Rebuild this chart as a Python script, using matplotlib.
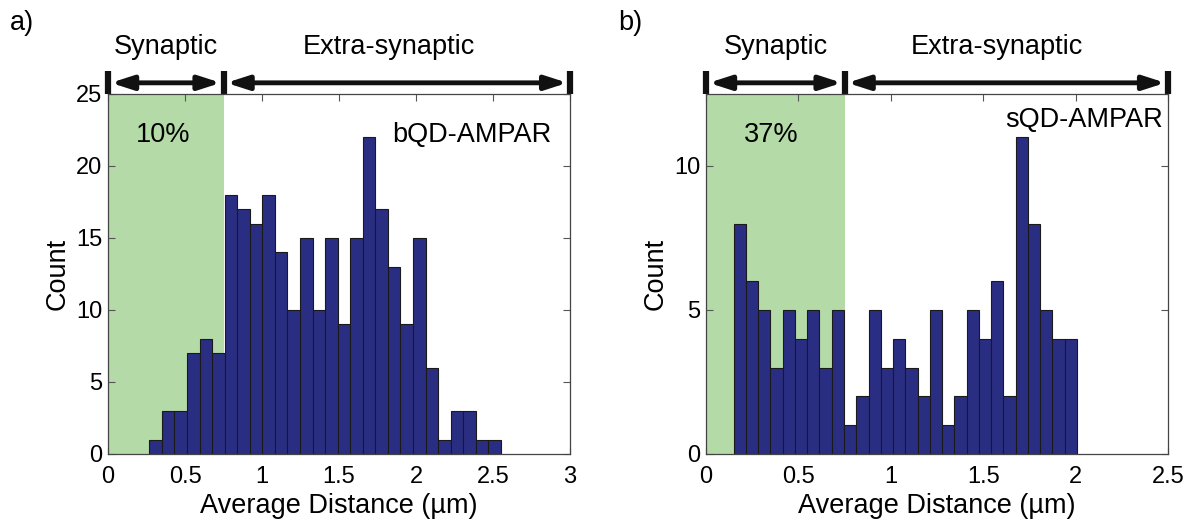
import numpy as np
import matplotlib.pyplot as plt

plt.rcParams['font.family'] = ['Liberation Sans', 'DejaVu Sans']

# panel a: bQD-AMPAR
counts_a = [1, 3, 3, 7, 8, 7, 18, 17, 16, 18, 14, 10, 15, 10, 15, 9,
            15, 22, 17, 13, 9, 15, 6, 1, 3, 3, 1, 1]
range_a = (0.268, 2.55)
# panel b: sQD-AMPAR
counts_b = [8, 6, 5, 3, 5, 4, 5, 3, 5, 1, 2, 5, 3, 4, 3, 2,
            5, 1, 2, 5, 4, 6, 2, 11, 8, 5, 4, 4]
range_b = (0.15, 2.006)

syn_edge = 0.75
bar_col = "#2a2e82"
green = "#b4dba7"

fig = plt.figure(figsize=(11.94, 5.21), dpi=100)
ax_a = fig.add_axes([0.0905, 0.1286, 0.387, 0.691])
ax_b = fig.add_axes([0.5913, 0.1286, 0.387, 0.691])

panels = [
    (ax_a, counts_a, range_a, 3.0, 25, [0, 5, 10, 15, 20, 25],
     ["0", "0.5", "1", "1.5", "2", "2.5", "3"], "10%", "bQD-AMPAR", 2.88, 0.885),
    (ax_b, counts_b, range_b, 2.5, 12.5, [0, 5, 10],
     ["0", "0.5", "1", "1.5", "2", "2.5"], "37%", "sQD-AMPAR", 2.47, 0.928),
]

for ax, counts, rng, xmax, ymax, yt, xtl, pct, name, nx, ny in panels:
    edges = np.linspace(rng[0], rng[1], len(counts) + 1)
    ax.axvspan(0, syn_edge, color=green, zorder=0, lw=0)
    ax.bar(edges[:-1], counts, width=np.diff(edges), align='edge',
           color=bar_col, edgecolor="#1a1a1a", linewidth=0.8, zorder=2)
    ax.set_xlim(0, xmax)
    ax.set_ylim(0, ymax)
    ax.set_yticks(yt)
    ax.set_xticks(np.arange(0, xmax + 0.01, 0.5))
    ax.set_xticklabels(xtl)
    ax.tick_params(direction='in', top=True, right=True, labelsize=17,
                   length=5, width=0.8, color="#555555", pad=4)
    ax.tick_params(axis='x', pad=8.5)
    for s in ax.spines.values():
        s.set_color("#444444")
        s.set_linewidth(0.9)
    ax.set_xlabel("Average Distance (µm)", fontsize=19.5, labelpad=4)
    ax.set_ylabel("Count", fontsize=19.5, labelpad=4)

    tr = ax.get_xaxis_transform()
    ax.text(syn_edge / 2 - 0.02, 0.885, pct, transform=tr,
            fontsize=19.5, ha='center', va='center')
    ax.text(nx, ny, name, transform=tr,
            fontsize=19.5, ha='right', va='center')

    # region arrows above the axes
    for x0, x1 in [(0, syn_edge), (syn_edge, xmax)]:
        ax.annotate("", xy=(x1, 1.031), xytext=(x0, 1.031), xycoords=tr,
                    textcoords=tr, annotation_clip=False,
                    arrowprops=dict(arrowstyle='<|-|>,head_length=1.3,head_width=0.42',
                                    color='#111111', lw=3.5, shrinkA=2, shrinkB=2))
    for xc in [0, syn_edge, xmax]:
        ax.plot([xc, xc], [1.0, 1.064], transform=tr, color='#111111', lw=4.5,
                clip_on=False, solid_capstyle='butt')
    ax.text(syn_edge / 2, 1.13, "Synaptic", transform=tr, fontsize=19.5,
            ha='center', va='center')
    ax.text((syn_edge + xmax) / 2 - 0.05, 1.13, "Extra-synaptic", transform=tr,
            fontsize=19.5, ha='center', va='center')

fig.text(0.008, 0.955, "a)", fontsize=19.5, ha='left', va='center')
fig.text(0.518, 0.955, "b)", fontsize=19.5, ha='left', va='center')

fig.savefig("out.png", dpi=100)
